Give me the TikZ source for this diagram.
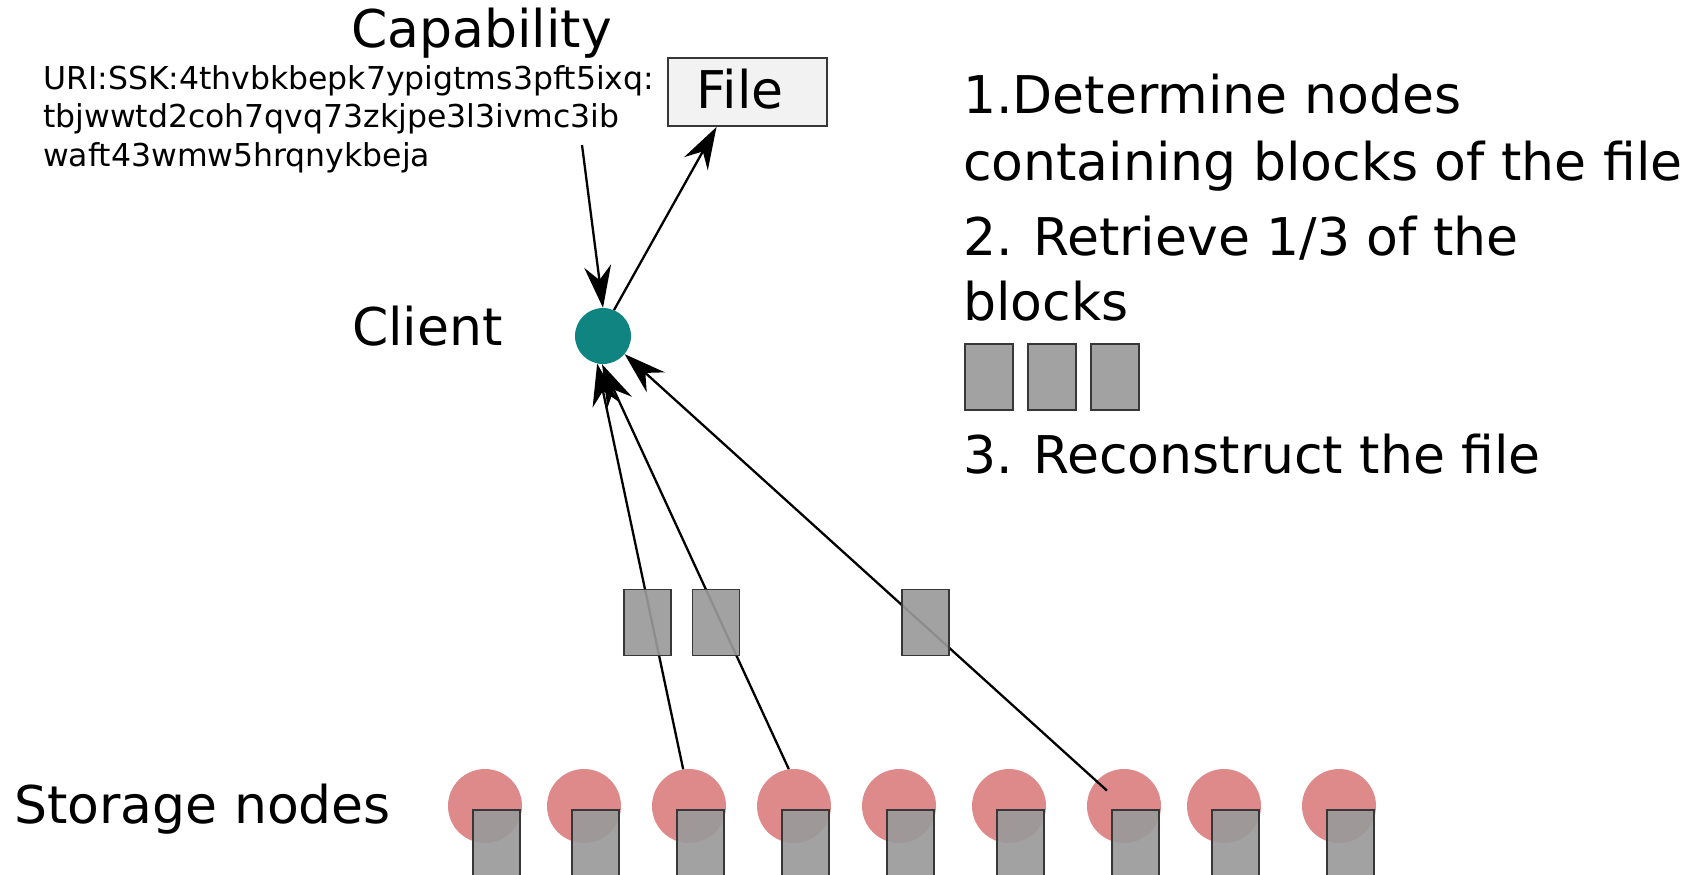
\documentclass[tikz,border=0pt]{standalone}
\usepackage{fontspec}
\setmainfont{DejaVu Sans}
\usetikzlibrary{arrows.meta}
\frenchspacing

\definecolor{clientteal}{RGB}{16,132,128}
\definecolor{noderose}{RGB}{222,138,138}
\definecolor{blockgray}{RGB}{154,154,154}
\definecolor{edgegray}{RGB}{55,55,55}
\definecolor{filefill}{RGB}{242,242,242}

\tikzset{
  bigtext/.style={inner sep=0pt, anchor=base west, font=\fontsize{52}{60}\selectfont},
  uritext/.style={inner sep=0pt, anchor=base west, font=\fontsize{31.5}{38}\selectfont},
  filebox/.style={draw=edgegray, line width=2pt, fill=filefill, minimum width=159pt,
    minimum height=68pt, inner sep=0pt},
  clientdot/.style={circle, fill=clientteal, minimum size=56pt, inner sep=0pt},
  storedot/.style={circle, fill=noderose, minimum size=74pt, inner sep=0pt},
  storeblock/.style={draw=edgegray, line width=2pt, fill=blockgray, fill opacity=0.92,
    minimum width=47pt, minimum height=85pt, inner sep=0pt, anchor=north west},
  datablock/.style={draw=edgegray, line width=1.8pt, fill=blockgray, fill opacity=0.92,
    minimum width=47pt, minimum height=66pt, inner sep=0pt},
  link/.style={line width=2.3pt, -{Stealth[length=42pt, width=27pt, inset=14pt]}},
}

\begin{document}
\begin{tikzpicture}[x=1pt, y=-1pt]
\useasboundingbox (0,0) rectangle (1702,875);
\clip (0,0) rectangle (1702,875);

% capability and the file it opens
\node[bigtext] (cap) at (351,48) {Capability};
\node[uritext] (u1) at (43,89) {URI:SSK:4thvbkbepk7ypigtms3pft5ixq:};
\node[uritext] (u2) at (43,127) {tbjwwtd2coh7qvq73zkjpe3l3ivmc3ib};
\node[uritext] (u3) at (43,166) {waft43wmw5hrqnykbeja};
\node[filebox] (file) at (747.5,92) {};
\node[bigtext, anchor=base] (filelabel) at (740,108) {File};
\coordinate (uritail) at (582,145);

% client
\node[bigtext] (clientlabel) at (352,345) {Client};
\node[clientdot] (client) at (603,336) {};

% steps
\node[bigtext] (t1) at (963,113) {1.Determine nodes};
\node[bigtext] (t2) at (963,180) {containing blocks of the file};
\node[bigtext] (t3) at (963,255) {2.\kern4pt{} Retrieve 1/3 of the};
\node[bigtext] (t4) at (963,320) {blocks};
\node[datablock, minimum width=48pt] (r1) at (989,377) {};
\node[datablock, minimum width=48pt] (r2) at (1052,377) {};
\node[datablock, minimum width=48pt] (r3) at (1115,377) {};
\node[bigtext] (t5) at (963,473) {3.\kern4pt{} Reconstruct the file};

% storage nodes
\node[bigtext] (storelabel) at (14,823) {Storage nodes};
\foreach \i/\cx in {1/485, 2/584, 3/689, 4/794, 5/899, 6/1009, 7/1124, 8/1224, 9/1339} {
  \node[storedot] (s\i) at (\cx,806) {};
}
\foreach \i/\cx in {1/485, 2/584, 3/689, 4/794, 5/899, 6/1009, 7/1124, 8/1224, 9/1339} {
  \node[storeblock] (d\i) at (\cx-13,809) {};
}

% connectors
\draw[link] (uritail) -- (client.north);
\draw[link] (client.67) -- ([xshift=-31pt]file.south);
\draw[link] (s3.99) -- (client.258);
\draw[link] (s4.98) -- (client.268);
\draw[link, shorten <=23pt] (s7.center) -- (client.320);

% blocks in transit
\node[datablock] (b1) at (647.5,622.5) {};
\node[datablock] (b2) at (716,622.5) {};
\node[datablock] (b3) at (925.5,622.5) {};
\end{tikzpicture}
\end{document}
